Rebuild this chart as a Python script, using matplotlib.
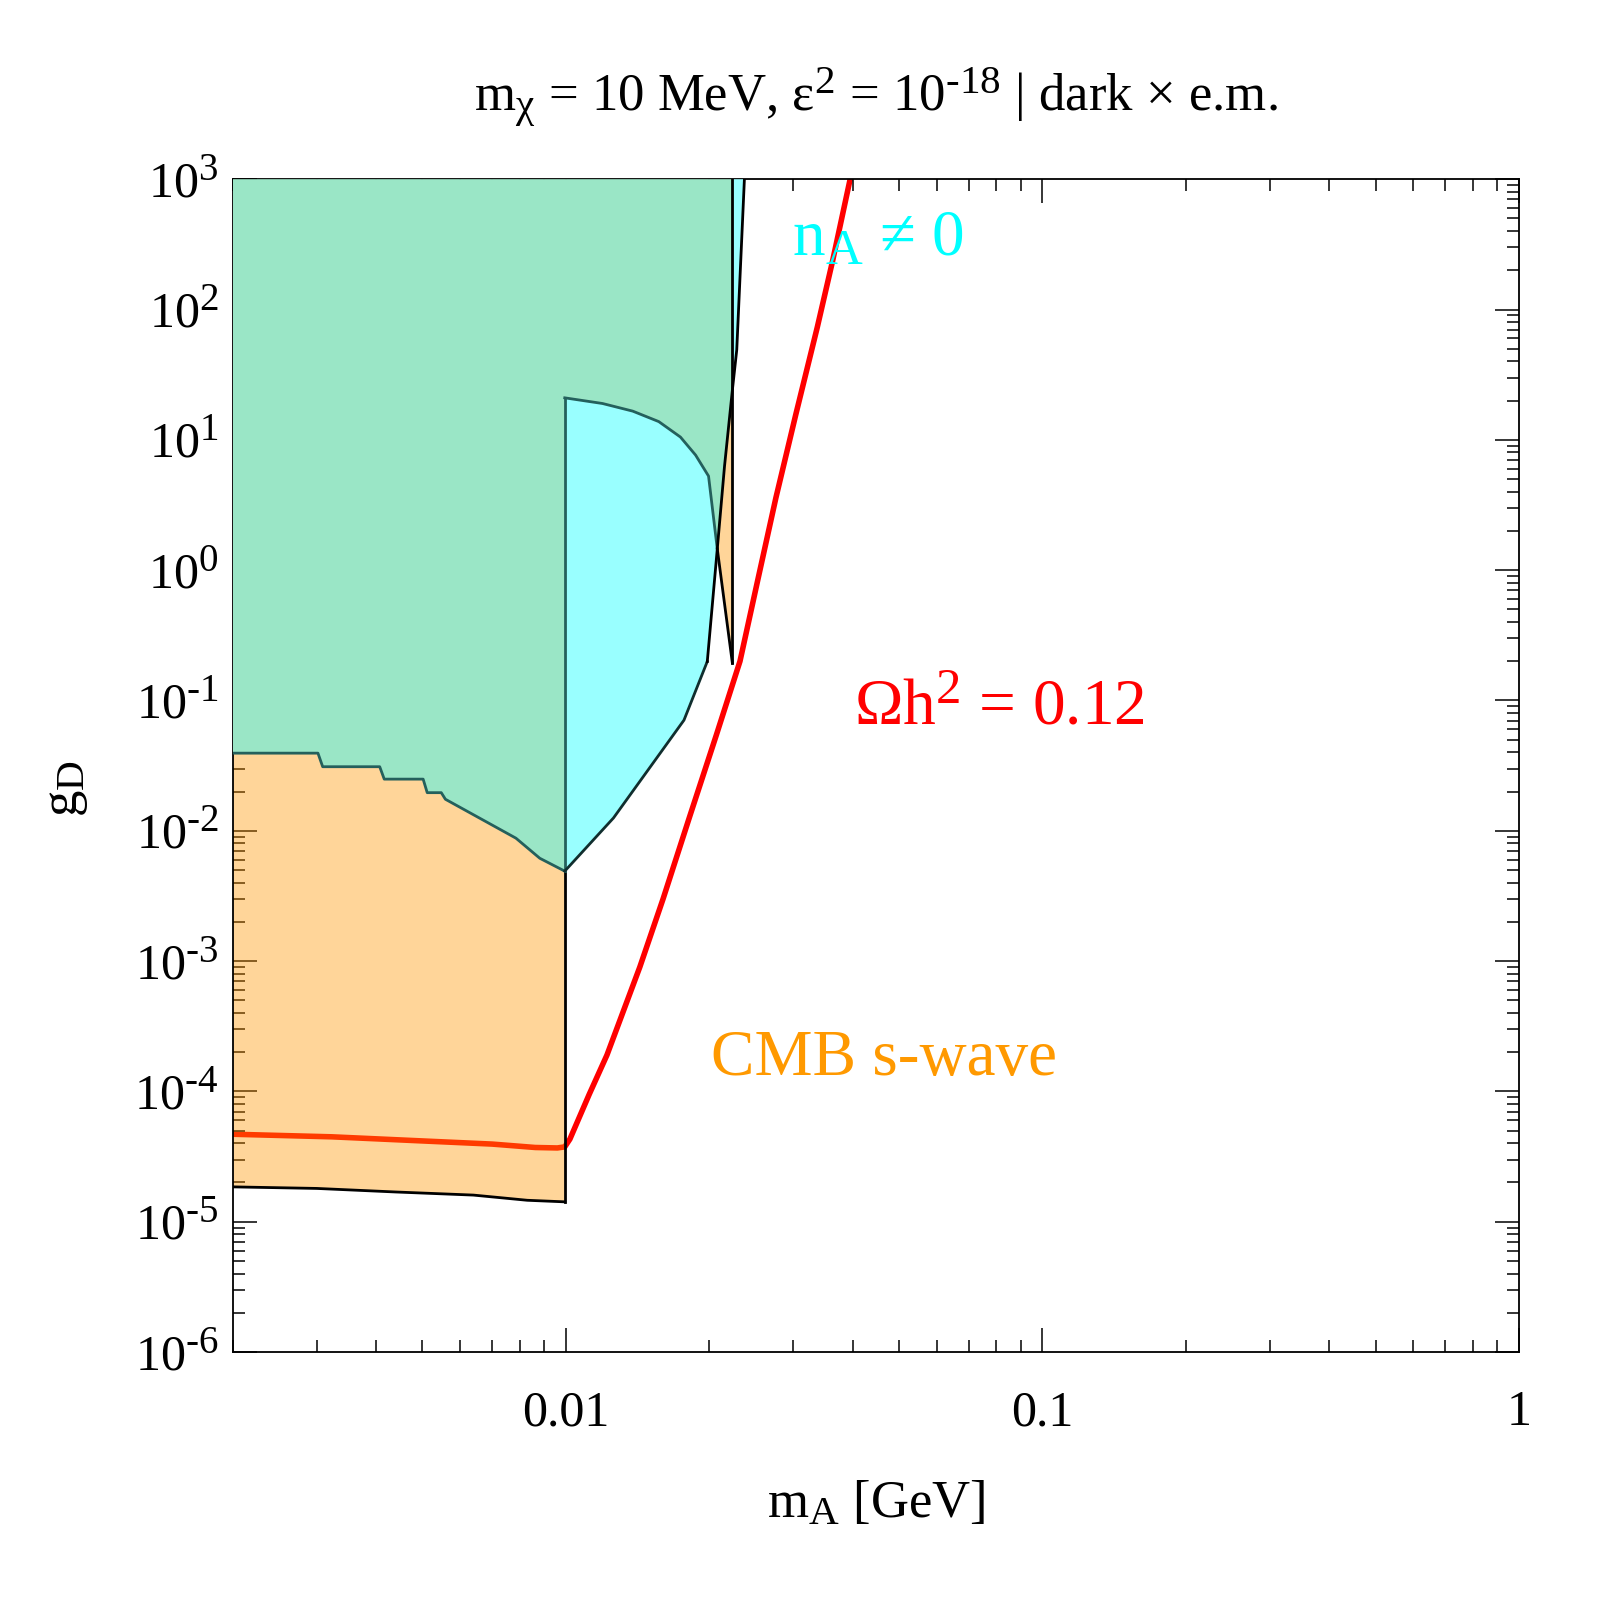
"""
Relic density line and CMB / n_A exclusion regions in the (m_A, g_D) plane.
"""
import numpy as np
import matplotlib
matplotlib.use("Agg")
import matplotlib.pyplot as plt
import matplotlib._mathtext as mathtext_mod
from matplotlib import ticker

# bigger super/subscripts, closer to the Mathematica look
mathtext_mod.SHRINK_FACTOR = 0.78

plt.rcParams["font.family"] = ["Liberation Serif", "DejaVu Serif"]
plt.rcParams["mathtext.fontset"] = "custom"
plt.rcParams["mathtext.rm"] = "Liberation Serif"
plt.rcParams["mathtext.it"] = "Liberation Serif"
plt.rcParams["mathtext.bf"] = "Liberation Serif:bold"

# Omega h^2 = 0.12 line
relic_x = [0.002, 0.00323, 0.00497, 0.00701, 0.00863, 0.0096, 0.00995, 0.0102,
           0.0112, 0.0122, 0.0143, 0.0160, 0.0182, 0.0207, 0.0232, 0.0253,
           0.0276, 0.0304, 0.0337, 0.0363, 0.0395]
relic_y = [4.69e-5, 4.48e-5, 4.17e-5, 3.94e-5, 3.71e-5, 3.68e-5, 3.75e-5, 4.3e-5,
           9.5e-5, 1.9e-4, 9.0e-4, 3.0e-3, 0.0129, 0.0544, 0.20, 0.85,
           3.6, 15.8, 73, 237, 1000]

# CMB lower edge (x < 0.01)
cmb_bot_x = [0.002, 0.0030, 0.0044, 0.0064, 0.0083, 0.00995]
cmb_bot_y = [1.85e-5, 1.80e-5, 1.69e-5, 1.60e-5, 1.46e-5, 1.42e-5]

# staircase between CMB and the green region
stair_x = [0.002, 0.00302, 0.00309, 0.00407, 0.00416, 0.00502, 0.00512,
           0.00548, 0.00559, 0.00786, 0.00882, 0.00995]
stair_y = [0.0394, 0.0394, 0.031, 0.031, 0.0249, 0.0249, 0.0196,
           0.0196, 0.01745, 0.00877, 0.00615, 0.0049]

# n_A != 0 region: upper curve and lower edge
na_top_x = [0.00995, 0.01194, 0.01382, 0.01567, 0.0174, 0.01872, 0.01993]
na_top_y = [21.0, 19.0, 16.6, 13.8, 10.5, 7.64, 5.27]
na_low_x = [0.00995, 0.01259, 0.0177, 0.01981]
na_low_y = [0.0049, 0.01253, 0.0706, 0.199]

# slanted edge, crossing point and wedge
slant_x = [0.01981, 0.02079, 0.02153, 0.02236, 0.02284, 0.0237]
slant_y = [0.199, 1.455, 6.28, 24.0, 49.0, 1000]
cross_x, cross_y = 0.02079, 1.455
wedge_x, wedge_bot = 0.02236, 0.194
g_max = 1000

green = "#9ae6c6"
cyan_fill = "#99ffff"
orange_fill = (1.0, 0.59, 0.0, 0.4)
teal = "#24605c"
dark = "#102e2e"

fig = plt.figure(figsize=(16, 16), dpi=100)
ax = fig.add_axes([0.1454, 0.155, 0.804, 0.733])
ax.set_xscale("log")
ax.set_yscale("log")

# relic line goes below the translucent CMB region
ax.plot(relic_x, relic_y, color="red", lw=4.0, zorder=1,
        solid_joinstyle="round", solid_capstyle="round")

# CMB s-wave: left block and thin wedge
cmb_px = np.concatenate([cmb_bot_x, stair_x[::-1]])
cmb_py = np.concatenate([cmb_bot_y, stair_y[::-1]])
ax.fill(cmb_px, cmb_py, color=orange_fill, lw=0, zorder=2)
wx = [cross_x] + slant_x[2:4] + [wedge_x]
wy = [cross_y] + slant_y[2:4] + [wedge_bot]
ax.fill(wx, wy, color=orange_fill, lw=0, zorder=2)

# n_A != 0: main lobe and thin sliver on the right
nx = np.concatenate([na_top_x, [cross_x], slant_x[:1], na_low_x[::-1]])
ny = np.concatenate([na_top_y, [cross_y], slant_y[:1], na_low_y[::-1]])
ax.fill(nx, ny, color=cyan_fill, lw=0, zorder=3)
sx = slant_x[3:] + [wedge_x]
sy = slant_y[3:] + [g_max]
ax.fill(sx, sy, color=cyan_fill, lw=0, zorder=3)

# green region above everything on the left
gx = np.concatenate([[stair_x[0], wedge_x], slant_x[3:0:-1], na_top_x[::-1],
                     stair_x[::-1]])
gy = np.concatenate([[g_max, g_max], slant_y[3:0:-1], na_top_y[::-1],
                     stair_y[::-1]])
ax.fill(gx, gy, color=green, lw=0, zorder=3)

# outlines
lw_e = 2.0
ax.plot(stair_x, stair_y, color=teal, lw=lw_e, zorder=4)
ax.plot(cmb_bot_x, cmb_bot_y, color="black", lw=lw_e, zorder=4)
ax.plot([0.00995, 0.00995], [cmb_bot_y[-1], stair_y[-1]], color="black", lw=lw_e, zorder=4)
ax.plot([0.00995, 0.00995], [stair_y[-1], na_top_y[0]], color=teal, lw=lw_e, zorder=4)
ax.plot(na_top_x + [cross_x], na_top_y + [cross_y], color=teal, lw=lw_e, zorder=4)
ax.plot([cross_x, wedge_x], [cross_y, wedge_bot], color="black", lw=lw_e, zorder=4)
ax.plot(na_low_x, na_low_y, color=dark, lw=lw_e, zorder=4)
ax.plot(slant_x, slant_y, color="black", lw=lw_e, zorder=4)
ax.plot([wedge_x, wedge_x], [wedge_bot, g_max], color="black", lw=lw_e, zorder=4)

ax.set_xlim(0.002, 1)
ax.set_ylim(1e-6, 1e3)

# ticks
ax.xaxis.set_major_locator(ticker.FixedLocator([0.01, 0.1, 1]))
ax.xaxis.set_major_formatter(ticker.FixedFormatter(["0.01", "0.1", "1"]))
ax.xaxis.set_minor_locator(ticker.LogLocator(base=10, subs=np.arange(2, 10), numticks=50))
ax.xaxis.set_minor_formatter(ticker.NullFormatter())
ax.yaxis.set_major_locator(ticker.LogLocator(base=10, numticks=20))
ax.yaxis.set_minor_locator(ticker.LogLocator(base=10, subs=np.arange(2, 10), numticks=50))
ax.yaxis.set_minor_formatter(ticker.NullFormatter())


def pow10(v, pos):
    e = int(round(np.log10(v)))
    if e < 0:
        return r"$\mathregular{10^{\text{-}%d}}$" % (-e)
    return r"$\mathregular{10^{%d}}$" % e


ax.yaxis.set_major_formatter(ticker.FuncFormatter(pow10))
ax.tick_params(which="both", direction="in", top=True, right=True, width=1.1)
ax.tick_params(which="major", length=17)
ax.tick_params(which="minor", length=8.5)
ax.tick_params(axis="x", labelsize=36, pad=27)
ax.tick_params(axis="y", labelsize=36, pad=10)
for sp in ax.spines.values():
    sp.set_linewidth(1.3)

# labels
ax.text(0.5, 1.0585,
        r"$\mathregular{m_{χ}}$ = 10 MeV, $\mathregular{ε^{2}}$ = "
        r"$\mathregular{10^{\text{-}18}}$ | dark × e.m.",
        transform=ax.transAxes, ha="center", va="baseline", fontsize=38)
ax.text(0.5, -0.1415, r"$\mathregular{m_{A}}$ [GeV]", transform=ax.transAxes,
        ha="center", va="baseline", fontsize=38)
fig.text(0.041, 0.507, r"$\mathregular{g_{D}}$", rotation=90,
         ha="center", va="center", fontsize=38)

ax.text(0.0298, 261, r"$\mathregular{n_{A}}$ ≠ 0", color="#00ffff",
        fontsize=47, va="baseline", zorder=6)
ax.text(0.0402, 0.0656, r"$\mathregular{Ωh^{2}}$ = 0.12", color="red",
        fontsize=47, va="baseline", zorder=6)
ax.text(0.0202, 1.33e-4, "CMB s-wave", color="#ff9900",
        fontsize=47, va="baseline", zorder=6)

fig.savefig("out.png", dpi=100, facecolor="white")
